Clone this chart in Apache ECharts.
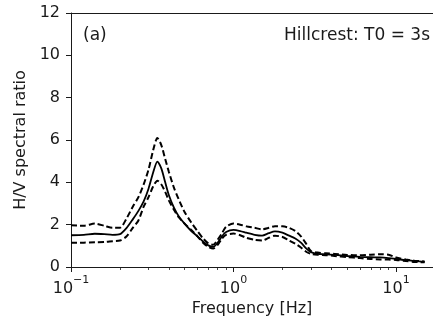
<!DOCTYPE html>
<html>
<head>
<meta charset="utf-8">
<script src="https://cdn.jsdelivr.net/npm/echarts@6/dist/echarts.min.js"></script>
<style>
  html, body { margin: 0; padding: 0; background: #fff; }
  #chart { width: 433px; height: 322px; }
</style>
</head>
<body>
<div id="chart"></div>
<script>
// Frequency samples [Hz]
const freqs = [0.1, 0.12, 0.14, 0.16, 0.18, 0.2, 0.22, 0.24, 0.26, 0.28, 0.30, 0.32, 0.34, 0.36, 0.38, 0.40, 0.43, 0.46, 0.50, 0.55, 0.60, 0.65, 0.70, 0.75, 0.80, 0.85, 0.90, 1.0, 1.1, 1.2, 1.35, 1.5, 1.65, 1.8, 2.0, 2.2, 2.4, 2.6, 2.8, 3.0, 3.3, 3.7, 4.2, 5.0, 6.0, 7.0, 8.0, 9.0, 10, 11.5, 13, 15];

// Mean H/V spectral ratio
const hvMean = [1.50, 1.52, 1.57, 1.55, 1.52, 1.55, 1.85, 2.25, 2.65, 3.1, 3.7, 4.45, 4.98, 4.65, 4.0, 3.4, 2.8, 2.4, 2.05, 1.7, 1.45, 1.2, 1.02, 0.95, 1.15, 1.45, 1.65, 1.75, 1.7, 1.62, 1.52, 1.48, 1.6, 1.68, 1.62, 1.48, 1.35, 1.15, 0.88, 0.7, 0.62, 0.6, 0.57, 0.52, 0.48, 0.46, 0.45, 0.42, 0.38, 0.32, 0.28, 0.24];

// Mean + one standard deviation
const hvUpper = [1.97, 1.95, 2.05, 1.95, 1.85, 1.85, 2.3, 2.85, 3.3, 3.9, 4.6, 5.5, 6.1, 5.75, 5.1, 4.5, 3.75, 3.2, 2.6, 2.1, 1.7, 1.35, 1.12, 1.05, 1.3, 1.6, 1.9, 2.05, 2.0, 1.92, 1.85, 1.78, 1.85, 1.93, 1.92, 1.85, 1.7, 1.45, 1.1, 0.75, 0.68, 0.65, 0.62, 0.57, 0.55, 0.58, 0.6, 0.58, 0.45, 0.35, 0.3, 0.26];

// Mean - one standard deviation
const hvLower = [1.14, 1.15, 1.17, 1.18, 1.22, 1.25, 1.45, 1.85, 2.2, 2.85, 3.3, 3.8, 4.08, 3.9, 3.55, 3.15, 2.7, 2.35, 2.05, 1.75, 1.45, 1.15, 0.95, 0.87, 1.05, 1.35, 1.52, 1.58, 1.5, 1.38, 1.28, 1.25, 1.38, 1.48, 1.42, 1.25, 1.1, 0.92, 0.72, 0.62, 0.58, 0.56, 0.52, 0.47, 0.42, 0.38, 0.36, 0.35, 0.33, 0.28, 0.24, 0.22];

// Axis ticks
const xMajorTicks = [0.1, 1, 10];
const xMinorTicks = [0.2, 0.3, 0.4, 0.5, 0.6, 0.7, 0.8, 0.9, 2, 3, 4, 5, 6, 7, 8, 9];
const yTicks = [0, 2, 4, 6, 8, 10, 12];

const panelLabel = '(a)';
const siteLabel = 'Hillcrest: T0 = 3s';

const X_MIN = 0.1;
const X_MAX = 16.9;

const FONT = '"DejaVu Sans", sans-serif';
const INK = '#1a1a1a';

const pairs = (ys) => freqs.map((f, i) => [f, ys[i]]);

// label for a decade given its log10 exponent
function expLabel(e) {
  e = Math.round(e);
  const s = e < 0 ? '\u2212' + Math.abs(e) : String(e);
  return '{b|10}{s|' + s + '}';
}

const chart = echarts.init(document.getElementById('chart'), null, { renderer: 'canvas' });

const lineBase = { type: 'line', showSymbol: false, symbol: 'none', smooth: 0.25, xAxisIndex: 0, yAxisIndex: 0 };

// helper axes share the decade scale (log10 of frequency)
const decadeAxis = (extra) => Object.assign({
  type: 'value', min: Math.log10(X_MIN), max: Math.log10(X_MAX), position: 'bottom',
  axisLine: { show: false, onZero: false },
  axisLabel: { show: false },
  splitLine: { show: false }
}, extra);

chart.setOption({
  animation: false,
  backgroundColor: '#fff',
  grid: { left: 71, right: 0, top: 13, bottom: 55, containLabel: false },
  xAxis: [
    {
      type: 'log', logBase: 10, min: X_MIN, max: X_MAX,
      name: 'Frequency [Hz]', nameLocation: 'middle', nameGap: 34,
      nameTextStyle: { fontFamily: FONT, fontSize: 16, color: INK },
      axisLine: { show: true, onZero: false, lineStyle: { color: INK, width: 1 } },
      axisTick: { show: false },
      axisLabel: { show: false },
      splitLine: { show: false }
    },
    decadeAxis({
      axisTick: { show: true, length: 5, inside: false, customValues: xMajorTicks.map(Math.log10), lineStyle: { color: INK, width: 1 } },
      axisLabel: {
        show: true, margin: 8,
        customValues: xMajorTicks.map(Math.log10),
        formatter: expLabel,
        rich: {
          b: { fontFamily: FONT, fontSize: 16, color: INK, verticalAlign: 'bottom', lineHeight: 22 },
          s: { fontFamily: FONT, fontSize: 11, color: INK, verticalAlign: 'top', lineHeight: 22 }
        }
      }
    }),
    decadeAxis({
      axisTick: { show: true, length: 3, inside: false, customValues: xMinorTicks.map(Math.log10), lineStyle: { color: INK, width: 0.8 } }
    }),
    decadeAxis({
      // top frame line
      position: 'top',
      axisLine: { show: true, onZero: false, lineStyle: { color: INK, width: 1 } },
      axisTick: { show: false }
    })
  ],
  yAxis: {
    type: 'value', min: yTicks[0], max: yTicks[yTicks.length - 1], interval: 2,
    name: 'H/V spectral ratio', nameLocation: 'middle', nameGap: 30,
    nameTextStyle: { fontFamily: FONT, fontSize: 16, color: INK },
    axisLine: { show: true, onZero: false, lineStyle: { color: INK, width: 1 } },
    axisTick: { show: true, length: 5, inside: false, lineStyle: { color: INK, width: 1 } },
    axisLabel: { margin: 11, fontFamily: FONT, fontSize: 16, color: INK },
    splitLine: { show: false }
  },
  series: [
    Object.assign({}, lineBase, { name: 'upper', data: pairs(hvUpper), lineStyle: { color: '#000', width: 2, type: [6, 3] } }),
    Object.assign({}, lineBase, { name: 'lower', data: pairs(hvLower), lineStyle: { color: '#000', width: 2, type: [6, 3] } }),
    Object.assign({}, lineBase, { name: 'mean', data: pairs(hvMean), lineStyle: { color: '#000', width: 1.8, type: 'solid' } })
  ],
  graphic: [
    { type: 'text', left: 83, top: 27, style: { text: panelLabel, font: '17px ' + FONT, fill: INK } },
    { type: 'text', right: 3, top: 27, style: { text: siteLabel, font: '17px ' + FONT, fill: INK } }
  ]
});
</script>
</body>
</html>
